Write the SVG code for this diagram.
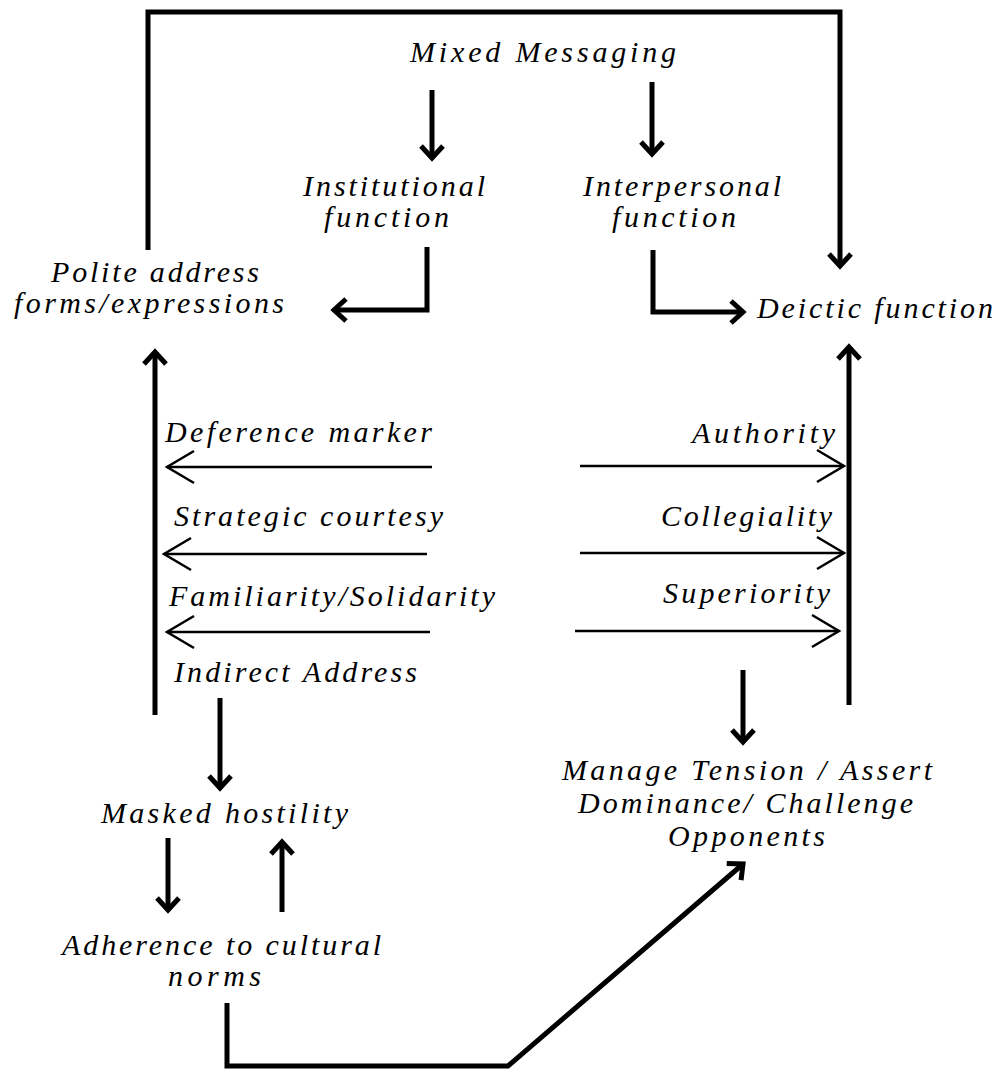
<svg xmlns="http://www.w3.org/2000/svg" width="997" height="1070" viewBox="0 0 997 1070">
<style>
.t{font-family:"Liberation Serif","Times New Roman",serif;font-style:italic;font-size:30px;fill:#000}
.k{fill:none;stroke:#000;stroke-width:5}
.n{fill:none;stroke:#000;stroke-width:2.5}
</style>
<defs>
<marker id="ah" markerUnits="userSpaceOnUse" viewBox="-18 -15 24 30" markerWidth="24" markerHeight="30" refX="0" refY="0" orient="auto">
<path d="M-12,-11 L0,0 L-12,11" fill="none" stroke="#000" stroke-width="5"/>
</marker>
<marker id="th" markerUnits="userSpaceOnUse" viewBox="-30 -20 34 40" markerWidth="34" markerHeight="40" refX="0" refY="0" orient="auto">
<path d="M-27,-16 L0,0 L-27,16" fill="none" stroke="#000" stroke-width="2.5"/>
</marker>
</defs>
<rect width="997" height="1070" fill="#fff"/>
<g id="connectors">
<path class="k" d="M148,250 V12 H840 V266" marker-end="url(#ah)"/>
<path class="k" d="M432,90 V158" marker-end="url(#ah)"/>
<path class="k" d="M652,82 V154" marker-end="url(#ah)"/>
<path class="k" d="M427,247 V310 H334" marker-end="url(#ah)"/>
<path class="k" d="M653,250 V312 H743" marker-end="url(#ah)"/>
<path class="k" d="M155,715 V352" marker-end="url(#ah)"/>
<path class="k" d="M849,705 V347" marker-end="url(#ah)"/>
<path class="n" d="M432,467 H167" marker-end="url(#th)"/>
<path class="n" d="M427,554 H164" marker-end="url(#th)"/>
<path class="n" d="M430,632 H167" marker-end="url(#th)"/>
<path class="n" d="M580,466 H844" marker-end="url(#th)"/>
<path class="n" d="M580,553 H844" marker-end="url(#th)"/>
<path class="n" d="M575,631 H839" marker-end="url(#th)"/>
<path class="k" d="M220,698 V788" marker-end="url(#ah)"/>
<path class="k" d="M743,670 V742" marker-end="url(#ah)"/>
<path class="k" d="M168,838 V910" marker-end="url(#ah)"/>
<path class="k" d="M282,912 V842" marker-end="url(#ah)"/>
<path class="k" d="M227,1003 V1066 H508 L743,864" marker-end="url(#ah)"/>
</g>
<g id="mixed"><text class="t" x="410" y="62" textLength="266">Mixed Messaging</text></g>
<g id="institutional"><text class="t" x="303" y="196" textLength="182">Institutional</text><text class="t" x="324" y="227" textLength="125">function</text></g>
<g id="interpersonal"><text class="t" x="583" y="196" textLength="198">Interpersonal</text><text class="t" x="612" y="227" textLength="124">function</text></g>
<g id="polite"><text class="t" x="51" y="282" textLength="208">Polite address</text><text class="t" x="14" y="313" textLength="270">forms/expressions</text></g>
<g id="deictic"><text class="t" x="757" y="318" textLength="236">Deictic function</text></g>
<g id="deference"><text class="t" x="165" y="442" textLength="267">Deference marker</text></g>
<g id="strategic"><text class="t" x="174" y="526" textLength="269">Strategic courtesy</text></g>
<g id="familiarity"><text class="t" x="169" y="606" textLength="326">Familiarity/Solidarity</text></g>
<g id="indirect"><text class="t" x="174" y="682" textLength="243">Indirect Address</text></g>
<g id="authority"><text class="t" x="692" y="443" textLength="143">Authority</text></g>
<g id="collegiality"><text class="t" x="661" y="526" textLength="171">Collegiality</text></g>
<g id="superiority"><text class="t" x="663" y="603" textLength="167">Superiority</text></g>
<g id="masked"><text class="t" x="101" y="823" textLength="247">Masked hostility</text></g>
<g id="adherence"><text class="t" x="62" y="955" textLength="319">Adherence to cultural</text><text class="t" x="168" y="986" textLength="93">norms</text></g>
<g id="manage"><text class="t" x="562" y="780" textLength="370">Manage Tension / Assert</text><text class="t" x="578" y="813" textLength="335">Dominance/ Challenge</text><text class="t" x="668" y="846" textLength="157">Opponents</text></g>
</svg>
